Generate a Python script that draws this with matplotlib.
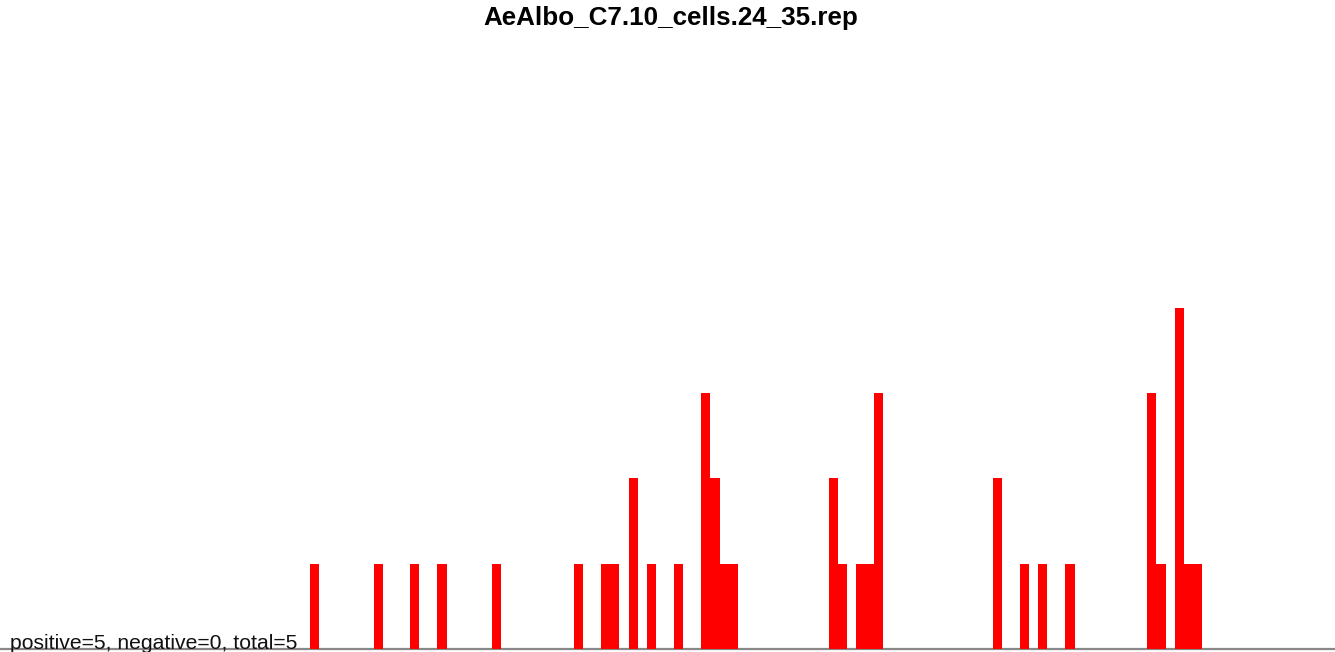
import matplotlib
matplotlib.use("Agg")
import matplotlib.pyplot as plt

title = "AeAlbo_C7.10_cells.24_35.rep"
summary = "positive=5, negative=0, total=5"

positions = [0, 7, 11, 14, 20, 29, 32, 33, 35, 37, 40, 43, 44, 45, 46,
             57, 58, 60, 61, 62, 75, 78, 80, 83, 92, 93, 95, 96, 97]
counts = [1, 1, 1, 1, 1, 1, 1, 1, 2, 1, 1, 3, 2, 1, 1,
          2, 1, 1, 1, 3, 2, 1, 1, 1, 3, 1, 4, 1, 1]

W, H = 1335, 652
fig = plt.figure(figsize=(W / 100, H / 100), dpi=100)
base_px = 649
ax = fig.add_axes([0, (H - base_px) / H, 1, base_px / H])
unit = 85.3
slot = 9.102
left_px = 310
ax.set_xlim(-left_px / slot, (W - left_px) / slot)
ax.set_ylim(0, base_px / unit)
ax.axhline(0, color="#888888", lw=1.6, zorder=1, clip_on=False)
ax.bar(positions, counts, width=1.0, align="edge", color="#FF0000",
       edgecolor="none", linewidth=0, zorder=2)
for s in ax.spines.values():
    s.set_visible(False)
ax.set_xticks([])
ax.set_yticks([])

fig.text(670.5 / W, 1 - 17.5 / H, title, ha="center", va="center",
         fontsize=18.7, fontweight="bold", family="Liberation Sans")
fig.text(10 / W, (H - 649) / H, summary, ha="left", va="baseline",
         fontsize=15.2, family="Liberation Sans", color="#111111")

fig.savefig("out.png", dpi=100)
